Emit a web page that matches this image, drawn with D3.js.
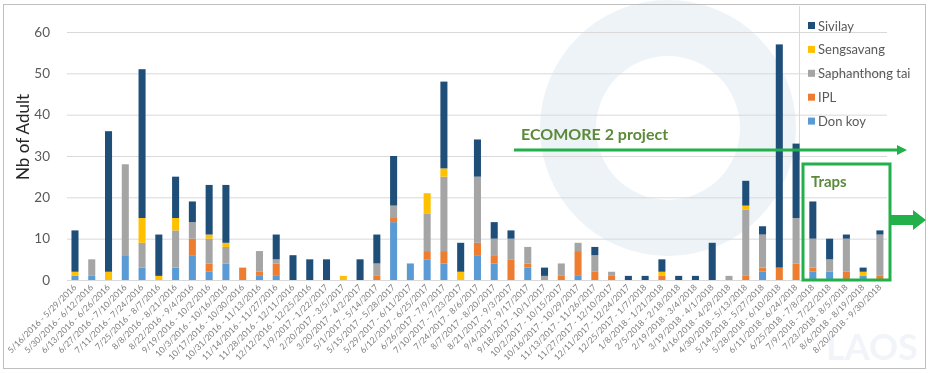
<!DOCTYPE html>
<html>
<head>
<meta charset="utf-8">
<script src="https://cdn.jsdelivr.net/npm/d3@7"></script>
<style>
  body { margin: 0; background: #fff; }
  svg { display: block; font-family: Lato, "Open Sans", sans-serif; }
</style>
</head>
<body>
<svg id="chart" width="931" height="373"></svg>
<script>
// ---------- data ----------
const periods = [
  "5/16/2016 - 5/29/2016", "5/30/2016 - 6/12/2016", "6/13/2016 - 6/26/2016", "6/27/2016 - 7/10/2016",
  "7/11/2016 - 7/24/2016", "7/25/2016 - 8/7/2016", "8/8/2016 - 8/21/2016", "8/22/2016 - 9/4/2016",
  "9/19/2016 - 10/2/2016", "10/3/2016 - 10/16/2016", "10/17/2016 - 10/30/2016", "10/31/2016 - 11/13/2016",
  "11/14/2016 - 11/27/2016", "11/28/2016 - 12/11/2016", "12/12/2016 - 12/25/2016", "1/9/2017 - 1/22/2017",
  "2/20/2017 - 3/5/2017", "3/20/2017 - 4/2/2017", "5/1/2017 - 5/14/2017", "5/15/2017 - 5/28/2017",
  "5/29/2017 - 6/11/2017", "6/12/2017 - 6/25/2017", "6/26/2017 - 7/9/2017", "7/10/2017 - 7/23/2017",
  "7/24/2017 - 8/6/2017", "8/7/2017 - 8/20/2017", "8/21/2017 - 9/3/2017", "9/4/2017 - 9/17/2017",
  "9/18/2017 - 10/1/2017", "10/2/2017 - 10/15/2017", "10/16/2017 - 10/29/2017", "11/13/2017 - 11/26/2017",
  "11/27/2017 - 12/10/2017", "12/11/2017 - 12/24/2017", "12/25/2017 - 1/7/2018", "1/8/2018 - 1/21/2018",
  "2/5/2018 - 2/18/2018", "2/19/2018 - 3/4/2018", "3/19/2018 - 4/1/2018", "4/16/2018 - 4/29/2018",
  "4/30/2018 - 5/13/2018", "5/14/2018 - 5/27/2018", "5/28/2018 - 6/10/2018", "6/11/2018 - 6/24/2018",
  "6/25/2018 - 7/8/2018", "7/9/2018 - 7/22/2018", "7/23/2018 - 8/5/2018", "8/6/2018 - 8/19/2018",
  "8/20/2018 - 9/30/2018"
];

const donKoy = [1,1,0,6,3,0,3,6,2,4,0,1,1,0,0,0,0,0,0,14,4,5,4,0,6,4,0,3,0,0,1,0,0,0,0,0,0,0,0,0,0,2,0,0,2,2,0,1,0];
const ipl    = [0,0,0,0,0,0,0,4,2,0,3,1,3,0,0,0,0,0,1,1,0,2,3,0,3,2,5,1,0,1,6,2,1,0,0,1,0,0,0,0,1,1,3,4,1,0,2,0,1];
const saphanthongTai = [0,4,0,22,6,0,9,4,6,4,0,5,1,0,0,0,0,0,3,3,0,9,18,0,16,4,5,4,1,3,2,4,1,0,0,0,0,0,0,1,16,8,0,11,7,3,8,0,10];
const sengsavang = [1,0,2,0,6,1,3,0,1,1,0,0,0,0,0,0,1,0,0,0,0,5,2,2,0,0,0,0,0,0,0,0,0,0,0,1,0,0,0,0,1,0,0,0,0,0,0,1,0];
const sivilay = [10,0,34,0,36,10,10,5,12,14,0,0,6,6,5,5,0,5,7,12,0,0,21,7,9,4,2,0,2,0,0,2,0,1,1,3,1,1,9,0,6,2,54,18,9,5,1,1,1];

const seriesNames = ["Don koy", "IPL", "Saphanthong tai", "Sengsavang", "Sivilay"];
const seriesColors = ["#5B9BD5", "#ED7D31", "#A5A5A5", "#FFC000", "#1F4E79"];
const legendOrder = ["Sivilay", "Sengsavang", "Saphanthong tai", "IPL", "Don koy"];
const yTicks = [0, 10, 20, 30, 40, 50, 60];

// table for d3.stack
const rows = periods.map((p, i) => ({
  period: p,
  "Don koy": donKoy[i],
  "IPL": ipl[i],
  "Saphanthong tai": saphanthongTai[i],
  "Sengsavang": sengsavang[i],
  "Sivilay": sivilay[i]
}));

const svg = d3.select("#chart");
const W = 931, H = 373;

svg.append("rect").attr("width", W).attr("height", H).attr("fill", "#fff");

// faint watermark behind the plot
const wm = svg.append("g").attr("opacity", 0.5);
wm.append("path")
  .attr("d", d3.arc()({ innerRadius: 72, outerRadius: 128, startAngle: 0, endAngle: 2 * Math.PI }))
  .attr("transform", "translate(668,128)")
  .attr("fill", "#dde6f1");
wm.append("text")
  .attr("x", 826).attr("y", 360)
  .attr("font-size", 36).attr("font-weight", 700)
  .attr("fill", "#e3e9f1")
  .text("LAOS");

// outer frame
svg.append("rect")
  .attr("x", 3.5).attr("y", 4.5)
  .attr("width", 922).attr("height", 364)
  .attr("fill", "none").attr("stroke", "#bfbfbf");

// ---------- scales ----------
const x = d3.scaleBand()
  .domain(periods)
  .range([66.6, 888.3])
  .paddingInner(0.58)
  .paddingOuter(0.29);

const y = d3.scaleLinear().domain([0, 60]).range([280, 32]);

// y axis + gridlines
const yAxis = svg.append("g")
  .attr("transform", "translate(67,0)")
  .call(d3.axisLeft(y).tickValues(yTicks).tickSize(-820).tickPadding(17));
yAxis.select(".domain").remove();
yAxis.selectAll(".tick line").attr("stroke", "#d9d9d9");
yAxis.selectAll(".tick text")
  .attr("font-size", 13.5).attr("fill", "#595959")
  .attr("font-family", "Lato, sans-serif");

// legend separator line
svg.append("line")
  .attr("x1", 799.5).attr("x2", 799.5)
  .attr("y1", 6).attr("y2", 160)
  .attr("stroke", "#d9d9d9");

// axis title
svg.append("text")
  .attr("transform", "translate(29,137) rotate(-90)")
  .attr("text-anchor", "middle")
  .attr("font-size", 17)
  .attr("fill", "#262626")
  .text("Nb of Adult");

// ---------- stacked bars ----------
const stacked = d3.stack().keys(seriesNames)(rows);
const color = d3.scaleOrdinal().domain(seriesNames).range(seriesColors);

svg.append("g")
  .selectAll("g")
  .data(stacked)
  .join("g")
  .attr("fill", d => color(d.key))
  .selectAll("rect")
  .data(d => d)
  .join("rect")
  .attr("x", d => x(d.data.period))
  .attr("width", x.bandwidth())
  .attr("y", d => y(d[1]))
  .attr("height", d => y(d[0]) - y(d[1]));

// x axis labels
const xAxis = svg.append("g")
  .attr("transform", "translate(0,282)")
  .call(d3.axisBottom(x).tickSize(0).tickPadding(0));
xAxis.select(".domain").remove();
xAxis.selectAll(".tick text")
  .attr("font-size", 8.6)
  .attr("fill", "#7f7f7f")
  .attr("font-family", "Lato, sans-serif")
  .attr("text-anchor", "end")
  .attr("dy", 0)
  .attr("transform", "translate(2,6) rotate(-45)");

// ---------- legend ----------
const legend = svg.append("g");
legendOrder.forEach((name, i) => {
  const ly = 26 + i * 23.9;
  legend.append("rect")
    .attr("x", 808).attr("y", ly - 4)
    .attr("width", 7).attr("height", 7)
    .attr("fill", color(name));
  legend.append("text")
    .attr("x", 818).attr("y", ly)
    .attr("dy", "0.35em")
    .attr("font-size", 13)
    .attr("fill", "#595959")
    .text(name);
});

// ---------- annotations ----------
const green = "#22B04B";
const olive = "#5C8A3A";

svg.append("text")
  .attr("x", 521).attr("y", 140)
  .attr("font-size", 16).attr("font-weight", 700)
  .attr("fill", olive)
  .text("ECOMORE 2 project");

svg.append("line")
  .attr("x1", 514).attr("x2", 899)
  .attr("y1", 150).attr("y2", 150)
  .attr("stroke", green).attr("stroke-width", 3);
svg.append("path")
  .attr("d", "M897,145 L907,150 L897,155 Z")
  .attr("fill", green);

svg.append("rect")
  .attr("x", 803).attr("y", 164)
  .attr("width", 87).attr("height", 116)
  .attr("fill", "none").attr("stroke", green).attr("stroke-width", 3);

svg.append("text")
  .attr("x", 811).attr("y", 187)
  .attr("font-size", 15).attr("font-weight", 700)
  .attr("fill", olive)
  .text("Traps");

svg.append("path")
  .attr("d", "M891,215 L913,215 L913,210 L926,220 L913,230 L913,225 L891,225 Z")
  .attr("fill", green);
</script>
</body>
</html>
